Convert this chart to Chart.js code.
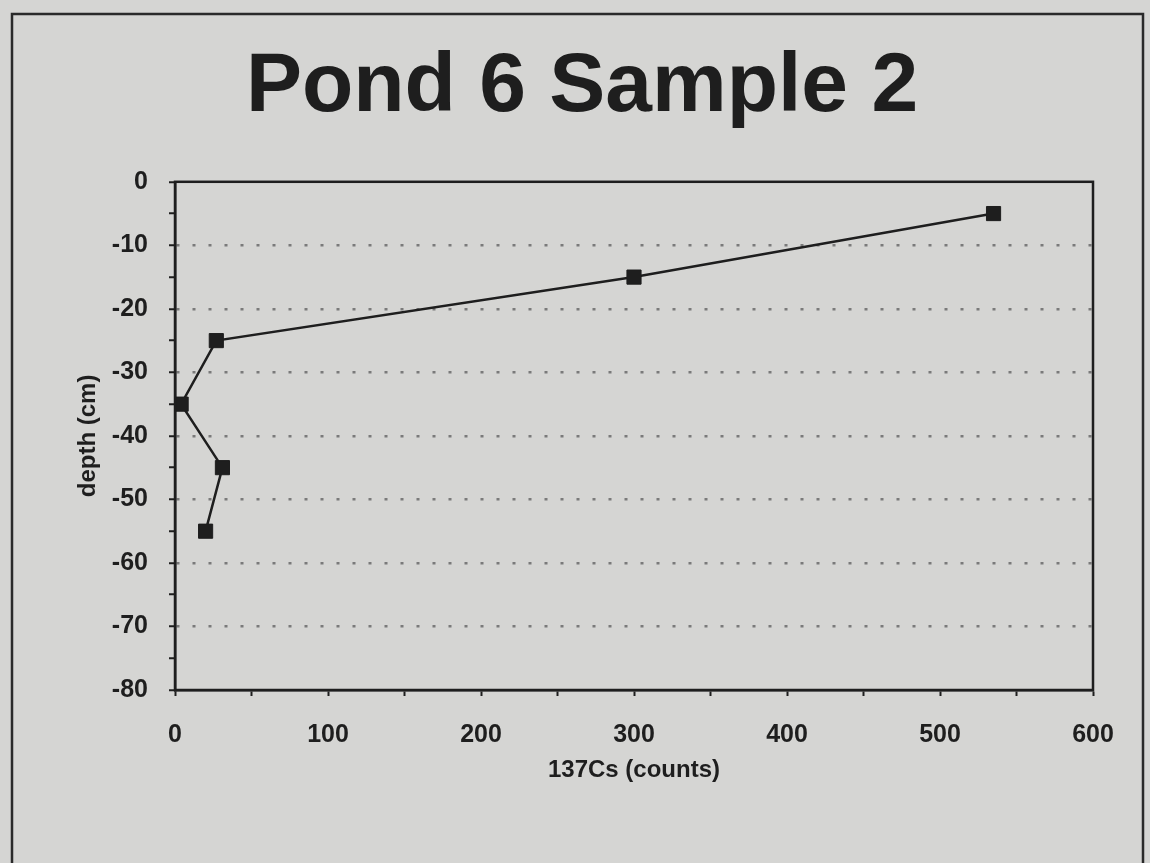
<!DOCTYPE html>
<html>
<head>
<meta charset="utf-8">
<title>Pond 6 Sample 2</title>
<script src="https://cdn.jsdelivr.net/npm/chart.js@4/dist/chart.umd.min.js"></script>
<style>
  html, body { margin: 0; padding: 0; background: #d5d5d3; }
  canvas { display: block; }
</style>
</head>
<body>
<canvas id="pondChart" width="1150" height="863"></canvas>
<script>
// Values
const counts = [535, 300, 27, 4, 31, 20];     // 137Cs (counts)
const depths = [-5, -15, -25, -35, -45, -55]; // depth (cm)
const xTicks = [0, 100, 200, 300, 400, 500, 600];
const yTicks = [0, -10, -20, -30, -40, -50, -60, -70, -80];

const ink = '#1e1e1e';

// Background, outer frame and the box around the plot area
const framePlugin = {
    id: 'frame',
    beforeDraw(chart) {
        const ctx = chart.ctx;
        ctx.save();
        ctx.fillStyle = '#d5d5d3';
        ctx.fillRect(0, 0, chart.width, chart.height);
        ctx.strokeStyle = '#2a2a2a';
        ctx.lineWidth = 2.5;
        ctx.strokeRect(12, 14, 1131, 870);
        ctx.restore();
    },
    afterDatasetsDraw(chart) {
        const a = chart.chartArea;
        const ctx = chart.ctx;
        ctx.save();
        ctx.strokeStyle = ink;
        ctx.lineWidth = 2.5;
        ctx.strokeRect(a.left, a.top, a.right - a.left, a.bottom - a.top);
        ctx.restore();
    }
};

Chart.defaults.font.family = "'Liberation Sans', Arial, Helvetica, sans-serif";
Chart.defaults.color = ink;

new Chart(document.getElementById('pondChart').getContext('2d'), {
    type: 'scatter',
    data: {
        datasets: [{
            data: counts.map((c, i) => ({ x: c, y: depths[i] })),
            showLine: true,
            borderColor: ink,
            borderWidth: 2.5,
            pointStyle: 'rect',
            pointRadius: 10,
            pointBackgroundColor: ink,
            pointBorderColor: ink,
            pointBorderWidth: 1
        }]
    },
    options: {
        responsive: false,
        animation: false,
        layout: { padding: { left: 71, right: 57, top: 0, bottom: 0 } },
        plugins: {
            legend: { display: false },
            tooltip: { enabled: false },
            title: {
                display: true,
                text: 'Pond 6 Sample 2',
                color: ink,
                font: { size: 84, weight: 'bold' },
                padding: { top: 37, bottom: 44 }
            }
        },
        scales: {
            x: {
                type: 'linear',
                min: 0,
                max: 600,
                afterFit(scale) { scale.height = 173; },
                ticks: {
                    stepSize: 50,
                    autoSkip: false,
                    maxRotation: 0,
                    padding: 24,
                    font: { size: 25, weight: 'bold' },
                    callback: v => xTicks.includes(v) ? v : ''
                },
                grid: {
                    drawOnChartArea: false,
                    drawTicks: true,
                    tickLength: 6,
                    tickColor: ink,
                    tickWidth: 2
                },
                border: { color: ink, width: 2.5 },
                title: {
                    display: true,
                    text: '137Cs (counts)',
                    font: { size: 24, weight: 'bold' },
                    padding: { top: 0, bottom: 78 }
                }
            },
            y: {
                type: 'linear',
                min: -80,
                max: 0,
                afterFit(scale) { scale.width = 104; },
                ticks: {
                    stepSize: 5,
                    autoSkip: false,
                    padding: 21,
                    font: { size: 25, weight: 'bold' },
                    callback: v => yTicks.includes(v) ? v : ''
                },
                grid: {
                    color: c => (c.tick && c.tick.value % 10 === 0 && c.tick.value !== 0 && c.tick.value !== -80)
                        ? '#7a7a7a' : 'rgba(0,0,0,0)',
                    lineWidth: 2.5,
                    drawTicks: true,
                    tickLength: 6,
                    tickColor: ink,
                    tickWidth: 2
                },
                border: { color: ink, width: 2.5, dash: [3, 13] },
                title: {
                    display: true,
                    text: 'depth (cm)',
                    font: { size: 24, weight: 'bold' },
                    padding: { top: 3, bottom: 0 }
                }
            }
        }
    },
    plugins: [framePlugin]
});
</script>
</body>
</html>
